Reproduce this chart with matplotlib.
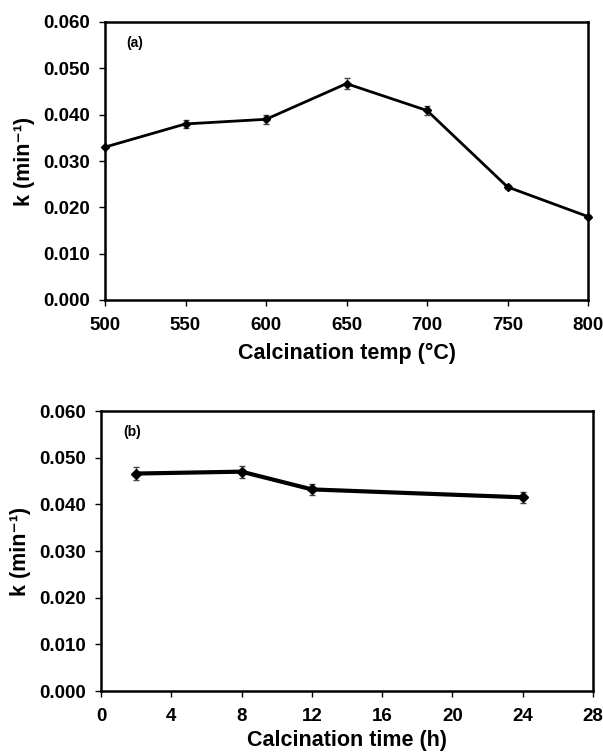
#Importing libraries.
import numpy as np
import matplotlib
matplotlib.use("Agg")
import matplotlib.pyplot as plt

#Data.
Temp = [500, 550, 600, 650, 700, 750, 800]
K_temp = [0.0330, 0.0380, 0.0390, 0.0467, 0.0409, 0.0244, 0.0180]
Err_temp = [0.0003, 0.0009, 0.0010, 0.0012, 0.0010, 0.0004, 0.0003]

Time = [2, 8, 12, 24]
K_time = [0.0466, 0.0470, 0.0432, 0.0415]
Err_time = [0.0013, 0.0013, 0.0011, 0.0012]

Temp_ticks = [500, 550, 600, 650, 700, 750, 800]
Time_ticks = [0, 4, 8, 12, 16, 20, 24, 28]
K_ticks = [0.0, 0.01, 0.02, 0.03, 0.04, 0.05, 0.06]

plt.rcParams['font.family'] = ['Liberation Sans', 'DejaVu Sans']
plt.rcParams['font.weight'] = 'bold'

#Function for styling one panel.
def style_axes(ax, xticks, xlabel, tag, xpad):
    ax.set_yticks(K_ticks)
    ax.set_yticklabels(["%.3f" % v for v in K_ticks])
    ax.set_ylim(0, 0.06)
    ax.set_xticks(xticks)
    ax.set_xlim(xticks[0], xticks[-1])
    ax.tick_params(direction='out', length=4, width=1, labelsize=13.5)
    ax.tick_params(axis='y', pad=7)
    ax.tick_params(axis='x', pad=8)
    for lab in ax.get_xticklabels() + ax.get_yticklabels():
        lab.set_fontweight('bold')
    for s in ax.spines.values():
        s.set_linewidth(1.8)
    ax.set_xlabel(xlabel, fontsize=15.5, fontweight='bold', labelpad=xpad)
    ax.set_ylabel("k (min⁻¹)", fontsize=15.5, fontweight='bold', labelpad=6)
    ax.text(0.045, 0.925, tag, transform=ax.transAxes, fontsize=10, fontweight='bold', va='center')

fig = plt.figure(figsize=(6.03, 7.54), dpi=100)

#Panel (a).
ax1 = fig.add_axes([105/603, 1 - 300/754, (588-105)/603, (300-22)/754])
ax1.errorbar(Temp, K_temp, yerr=Err_temp, color='black', lw=2, marker='D', ms=4,
             ecolor='#444444', elinewidth=0.8, capsize=2, clip_on=False, zorder=3)
style_axes(ax1, Temp_ticks, "Calcination temp (°C)", "(a)", 7)

#Panel (b).
ax2 = fig.add_axes([101/603, 1 - 691/754, (593-101)/603, (691-411)/754])
ax2.errorbar(Time, K_time, yerr=Err_time, color='black', lw=3, marker='D', ms=5,
             ecolor='#444444', elinewidth=0.8, capsize=2, clip_on=False, zorder=3)
style_axes(ax2, Time_ticks, "Calcination time (h)", "(b)", 4)

fig.savefig("out.png", dpi=100)
